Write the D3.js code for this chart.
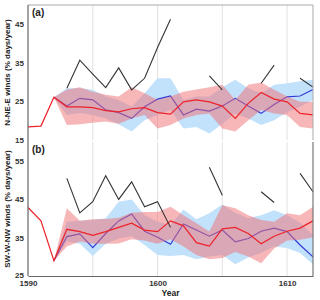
<!DOCTYPE html>
<html>
<head>
<meta charset="utf-8">
<script src="https://cdn.jsdelivr.net/npm/d3@7"></script>
<style>
  body { margin: 0; background: #fff; }
  text { font-family: "Liberation Sans", Arial, sans-serif; }
</style>
</head>
<body>
<svg id="chart" width="320" height="300"></svg>
<script>
// years shared by both panels
const years = d3.range(1590, 1613);

// panel (a) N-NE-E
const aRed = [18.4, 18.6, 26.1, 23.6, 23.6, 23.4, 22.6, 22.3, 23.1, 23.4, 22.1, 21.7, 24.9, 25.4, 24.9, 23.8, 20.6, 24.5, 27.3, 25.6, 24.9, 21.9, 21.5];
const aRedHi = [null, null, 26.1, 28.0, 28.7, 27.5, 26.7, 26.3, 28.7, 27.1, 25.4, 26.3, 27.5, 28.1, 28.7, 29.3, 25.4, 29.3, 29.9, 28.0, 26.3, 24.9, 24.9];
const aRedLo = [null, null, 26.1, 18.9, 19.1, 19.5, 19.8, 19.2, 20.6, 21.5, 18.0, 18.9, 20.6, 21.5, 21.9, 18.0, 17.2, 20.1, 22.8, 21.9, 21.5, 18.4, 18.0];
const aBlue = [null, null, 26.1, 23.8, 25.8, 25.4, 22.8, 22.1, 20.6, 23.6, 25.6, 26.4, 21.5, 23.0, 22.5, 23.8, 25.8, 23.8, 21.9, 24.2, 26.2, 26.4, 28.1];
const aBlueHi = [null, null, 26.1, 28.4, 28.4, 28.0, 26.3, 25.4, 23.6, 27.1, 31.0, 31.0, 25.4, 26.3, 26.3, 28.7, 30.6, 28.4, 27.1, 29.3, 29.7, 30.2, 30.6];
const aBlueLo = [null, null, 26.1, 21.5, 22.0, 21.5, 20.6, 19.1, 17.2, 20.1, 21.5, 22.8, 18.0, 18.4, 16.7, 19.2, 21.9, 20.6, 18.9, 20.1, 22.2, 23.6, 25.4];
const aBlack = [null, null, null, 28.4, 35.7, 32.1, 28.6, 33.7, 28.0, 31.0, 39.0, 46.3, null, null, 31.6, 28.0, null, null, 29.7, 34.4, null, 31.0, 28.7];

// panel (b) SW-W-NW
const bRed = [42.9, 39.4, 29.0, 37.2, 36.6, 35.6, 36.6, 37.7, 38.8, 37.0, 36.6, 39.4, 38.1, 33.7, 32.8, 37.3, 37.7, 36.1, 33.4, 35.4, 36.7, 37.5, 39.4];
const bRedHi = [null, null, 29.0, 42.7, 39.4, 39.8, 39.9, 40.2, 41.5, 41.7, 41.7, 43.1, 40.9, 38.8, 36.6, 43.5, 42.7, 40.9, 39.6, 39.2, 41.4, 40.9, 43.1];
const bRedLo = [null, null, 29.0, 32.7, 34.0, 33.4, 33.4, 33.5, 34.6, 34.3, 33.4, 34.6, 32.7, 30.5, 29.4, 29.7, 31.3, 30.1, 28.3, 32.2, 34.3, 34.5, 35.1];
const bBlue = [null, null, 29.0, 35.3, 36.0, 32.4, 36.1, 39.4, 41.2, 36.7, 35.1, 33.3, 38.6, 37.0, 35.4, 37.0, 33.9, 34.8, 36.7, 37.5, 36.6, 33.1, 30.0];
const bBlueHi = [null, null, 29.0, 39.2, 39.4, 39.6, 40.1, 44.4, 45.0, 40.9, 39.2, 38.3, 42.4, 39.8, 41.4, 43.7, 41.5, 40.1, 40.9, 42.2, 40.9, 38.9, 35.7];
const bBlueLo = [null, null, 29.0, 34.0, 33.4, 30.2, 33.4, 34.8, 35.4, 33.1, 30.5, 30.2, 30.5, 29.4, 30.1, 30.5, 28.1, 29.8, 31.1, 32.7, 32.3, 31.0, 28.1];
const bBlack = [null, null, null, 50.5, 41.5, 44.4, 51.2, 45.0, 49.6, 43.1, 44.4, 37.7, null, null, 53.4, 46.1, null, null, 47.0, 44.2, null, 51.8, 47.0];

const xTicks = [1590, 1600, 1610];
const gridYears = [1595, 1600, 1605, 1610];
const aTicks = [15, 25, 35, 45];
const bTicks = [25, 35, 45, 55];

const svg = d3.select('#chart');
const left = 28, right = 313;

const x = d3.scaleLinear().domain([1590, 1612]).range([left, right]);

const panels = [
  { label: '(a)', title: 'N-NE-E winds (% days/year)', top: 5, bottom: 140, domain: [15, 50], ticks: aTicks,
    red: aRed, redHi: aRedHi, redLo: aRedLo, blue: aBlue, blueHi: aBlueHi, blueLo: aBlueLo, black: aBlack },
  { label: '(b)', title: 'SW-W-NW winds (% days/year)', top: 142, bottom: 276, domain: [25, 60], ticks: bTicks,
    red: bRed, redHi: bRedHi, redLo: bRedLo, blue: bBlue, blueHi: bBlueHi, blueLo: bBlueLo, black: bBlack }
];

panels.forEach((p, i) => {
  const y = d3.scaleLinear().domain(p.domain).range([p.bottom, p.top]);
  const g = svg.append('g');

  // grid lines
  g.selectAll('.grid')
    .data(gridYears)
    .enter().append('line')
    .attr('x1', d => x(d)).attr('x2', d => x(d))
    .attr('y1', p.top).attr('y2', p.bottom)
    .attr('stroke', '#e2e2e2')
    .attr('stroke-width', 1);

  const idx = years.map((yr, k) => k);
  const area = (hi, lo) => d3.area()
    .defined(k => hi[k] != null)
    .x(k => x(years[k]))
    .y0(k => y(lo[k]))
    .y1(k => y(hi[k]));
  const line = vals => d3.line()
    .defined(k => vals[k] != null)
    .x(k => x(years[k]))
    .y(k => y(vals[k]));

  // blue band + line first, red on top
  g.append('path').attr('d', area(p.blueHi, p.blueLo)(idx))
    .attr('fill', '#c2e1fb');
  g.append('path').attr('d', line(p.blue)(idx))
    .attr('fill', 'none').attr('stroke', '#3438d6').attr('stroke-width', 1.2);
  g.append('path').attr('d', area(p.redHi, p.redLo)(idx))
    .attr('fill', '#ef6d72').attr('fill-opacity', 0.5);
  g.append('path').attr('d', line(p.red)(idx))
    .attr('fill', 'none').attr('stroke', '#ee2229').attr('stroke-width', 1.2);
  g.append('path').attr('d', line(p.black)(idx))
    .attr('fill', 'none').attr('stroke', '#333').attr('stroke-width', 1.1);

  // frame
  if (i === 0) {
    g.append('line').attr('x1', left).attr('x2', right).attr('y1', p.top).attr('y2', p.top)
      .attr('stroke', '#aaa').attr('stroke-width', 1);
    g.append('line').attr('x1', right).attr('x2', right).attr('y1', p.top).attr('y2', p.bottom)
      .attr('stroke', '#aaa').attr('stroke-width', 1);
  } else {
    g.append('line').attr('x1', right).attr('x2', right).attr('y1', p.top).attr('y2', p.bottom)
      .attr('stroke', '#777').attr('stroke-width', 1.2);
  }

  // y axis
  const yAxis = g.append('g')
    .attr('transform', `translate(${left},0)`)
    .call(d3.axisLeft(y).tickValues(p.ticks).tickSize(0).tickPadding(4));
  yAxis.select('.domain').attr('stroke', '#666').attr('stroke-width', 1.2)
    .attr('d', `M0,${p.top}V${p.bottom + (i === 0 ? 2 : 0)}`);
  yAxis.selectAll('text').attr('font-size', 8).attr('font-weight', 'bold').attr('fill', '#333');
  if (i === 1) yAxis.selectAll('text').filter(d => d === 25).attr('dy', '0.2em');

  g.append('text')
    .attr('x', left + 4).attr('y', p.top + 11)
    .attr('font-size', 10).attr('font-weight', 'bold').attr('fill', '#222')
    .text(p.label);

  g.append('text')
    .attr('transform', `translate(10,${(p.top + p.bottom) / 2}) rotate(-90)`)
    .attr('text-anchor', 'middle')
    .attr('font-size', 8).attr('font-weight', 'bold').attr('fill', '#222')
    .text(p.title);

  if (i === 1) {
    const xAxis = g.append('g')
      .attr('transform', `translate(0,${p.bottom})`)
      .call(d3.axisBottom(x).tickValues(xTicks).tickFormat(d3.format('d')).tickSize(0).tickPadding(4));
    xAxis.select('.domain').attr('stroke', '#666').attr('stroke-width', 1.2);
    xAxis.selectAll('text').attr('font-size', 8).attr('font-weight', 'bold').attr('fill', '#333');
    g.append('text')
      .attr('x', (left + right) / 2).attr('y', 296)
      .attr('text-anchor', 'middle')
      .attr('font-size', 8.5).attr('font-weight', 'bold').attr('fill', '#222')
      .text('Year');
  }
});
</script>
</body>
</html>
